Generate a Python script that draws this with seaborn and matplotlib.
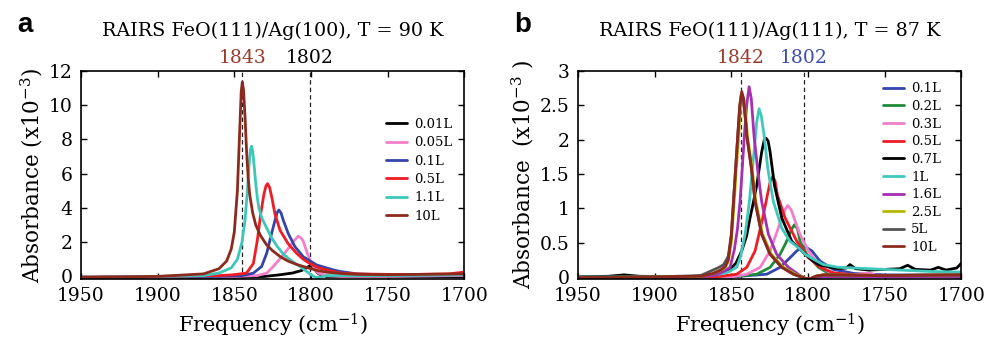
import numpy as np
import pandas as pd
import matplotlib
matplotlib.use("Agg")
import matplotlib.pyplot as plt
import seaborn as sns

# ---------------- Panel a: FeO(111)/Ag(100), T = 90 K ----------------
a_labels = ["0.01L", "0.05L", "0.1L", "0.5L", "1.1L", "10L"]
a_colors = ["#000000", "#f27fcb", "#3444a8", "#ee1d25", "#3ec7b8", "#8e2a1d"]

a_001_f = [1950, 1850, 1830, 1820, 1812, 1806, 1803, 1800.7, 1798, 1795, 1790, 1750, 1700]
a_001_y = [-0.05, -0.05, 0.0, 0.1, 0.2, 0.35, 0.5, 0.63, 0.45, 0.15, 0.0, -0.02, -0.02]

a_005_f = [1950, 1900, 1850, 1835, 1828.9, 1824.6, 1819.1, 1814.8, 1810.9, 1808.3, 1806.5,
           1805, 1802.4, 1800, 1798.5, 1795.2, 1790, 1780, 1750, 1700]
a_005_y = [-0.05, -0.05, 0.0, 0.05, 0.19, 0.58, 1.15, 1.63, 2.1, 2.35, 2.25,
           2.05, 1.35, 0.8, 0.58, 0.19, 0.05, 0.0, 0.0, 0.05]

a_01_f = [1950, 1900, 1860, 1845, 1837.6, 1832.2, 1828.9, 1825.7, 1823.5, 1822, 1820.9,
          1819.5, 1818, 1814.8, 1810.4, 1805, 1796.3, 1785.4, 1781, 1770, 1750, 1700]
a_01_y = [-0.05, -0.02, 0.0, 0.05, 0.19, 0.58, 1.35, 2.5, 3.27, 3.75, 3.88,
          3.7, 3.27, 2.5, 1.73, 1.15, 0.67, 0.38, 0.29, 0.15, 0.08, 0.1]

a_05_f = [1950, 1900, 1860, 1850, 1842, 1837.6, 1835, 1832.8, 1830.7, 1829.3, 1828.3, 1827,
          1825.5, 1823.5, 1820.2, 1814.8, 1809.4, 1805, 1800.7, 1795, 1789.8, 1781, 1770,
          1750, 1730, 1710, 1700]
a_05_y = [-0.05, 0.0, 0.05, 0.1, 0.2, 0.75, 2.1, 3.65, 4.8, 5.3, 5.42, 5.2,
          4.6, 3.65, 2.7, 1.9, 1.35, 1.0, 0.75, 0.5, 0.38, 0.2, 0.15,
          0.12, 0.12, 0.15, 0.25]

a_11_f = [1950, 1900, 1870, 1860, 1852, 1848, 1845, 1843, 1841.5, 1840.3, 1839.5, 1838.7,
          1838, 1837, 1836, 1835, 1834, 1832, 1829, 1826, 1822, 1818, 1814, 1810, 1806,
          1803, 1800, 1797, 1794, 1790, 1770, 1750, 1700]
a_11_y = [-0.05, 0.0, 0.05, 0.2, 0.5, 1.0, 2.0, 3.3, 5.0, 6.6, 7.4, 7.6,
          7.3, 6.4, 5.4, 4.6, 4.0, 3.4, 2.85, 2.3, 1.75, 1.3, 1.0, 0.75, 0.5,
          0.3, 0.1, -0.05, -0.05, 0.05, 0.05, 0.05, 0.1]

a_10_f = [1950, 1900, 1870, 1860, 1855, 1852, 1850, 1848, 1846.5, 1845.5, 1844.8, 1844,
          1843, 1842, 1841, 1840, 1838, 1836, 1833, 1829, 1825, 1820, 1815, 1810, 1805,
          1800, 1795, 1790, 1780, 1770, 1750, 1700]
a_10_y = [-0.05, 0.0, 0.15, 0.45, 0.9, 1.6, 2.6, 5.0, 8.5, 10.8, 11.35, 10.9,
          9.3, 7.3, 5.8, 4.8, 3.7, 3.0, 2.4, 1.85, 1.5, 1.15, 0.9, 0.72, 0.58,
          0.45, 0.33, 0.25, 0.17, 0.12, 0.1, 0.15]

a_freqs = [a_001_f, a_005_f, a_01_f, a_05_f, a_11_f, a_10_f]
a_values = [a_001_y, a_005_y, a_01_y, a_05_y, a_11_y, a_10_y]

# ---------------- Panel b: FeO(111)/Ag(111), T = 87 K ----------------
b_labels = ["0.1L", "0.2L", "0.3L", "0.5L", "0.7L", "1L", "1.6L", "2.5L", "5L", "10L"]
b_colors = ["#3445b0", "#1f8a3a", "#f27fcb", "#ee1d25", "#000000", "#40c8bc",
            "#a530b0", "#b4b800", "#555555", "#8e2a1d"]

b_01_f = [1950, 1850, 1826.9, 1818.2, 1811.7, 1807.3, 1802.6, 1797.5, 1792.1, 1783.4, 1770, 1750, 1700]
b_01_y = [0.0, 0.0, 0.04, 0.14, 0.28, 0.38, 0.45, 0.38, 0.23, 0.11, 0.05, 0.03, 0.03]

b_02_f = [1950, 1850, 1833.4, 1824.7, 1818.2, 1813.9, 1811, 1808.9, 1806.8, 1805.2, 1800.8,
          1793.2, 1785.6, 1770, 1700]
b_02_y = [0.0, 0.0, 0.04, 0.14, 0.33, 0.52, 0.68, 0.76, 0.7, 0.52, 0.33,
          0.14, 0.04, 0.02, 0.02]

b_03_f = [1950, 1900, 1850, 1839.9, 1831.2, 1824.7, 1820.8, 1817.1, 1815, 1813.2, 1811,
          1809.1, 1805.2, 1799.7, 1793.2, 1785.6, 1770, 1760, 1755, 1720, 1700]
b_03_y = [0.0, 0.0, 0.0, 0.04, 0.14, 0.38, 0.62, 0.86, 0.98, 1.04, 0.98,
          0.86, 0.62, 0.38, 0.18, 0.06, 0.03, 0.06, 0.02, 0.02, 0.05]

b_05_f = [1950, 1900, 1860, 1846.5, 1839.9, 1834.5, 1829.5, 1826.5, 1824.5, 1823, 1821.5,
          1819.9, 1814.9, 1807.3, 1799.7, 1792.1, 1783.4, 1770, 1750, 1700]
b_05_y = [0.0, 0.0, 0.0, 0.04, 0.14, 0.38, 0.86, 1.19, 1.4, 1.46, 1.4,
          1.19, 0.86, 0.52, 0.28, 0.14, 0.06, 0.03, 0.02, 0.03]

b_07_f = [1950, 1930, 1920, 1910, 1880, 1860, 1852, 1847, 1843.2, 1840, 1837.8, 1835.5,
          1833.4, 1830.2, 1828.5, 1827.3, 1826, 1824.7, 1821.9, 1817.1, 1810.6, 1806,
          1801.9, 1797, 1793.2, 1785.6, 1780, 1775, 1772.6, 1769, 1760, 1750, 1740,
          1735, 1730, 1720, 1715, 1710, 1703, 1700]
b_07_y = [0.0, 0.01, 0.03, 0.01, 0.0, 0.03, 0.09, 0.2, 0.38, 0.6, 0.86, 1.1,
          1.34, 1.82, 2.0, 2.02, 1.98, 1.82, 1.34, 0.86, 0.52, 0.42,
          0.33, 0.24, 0.18, 0.14, 0.12, 0.13, 0.18, 0.12, 0.1, 0.11, 0.12,
          0.17, 0.11, 0.1, 0.14, 0.1, 0.13, 0.2]

b_1_f = [1950, 1900, 1870, 1860, 1852, 1846.5, 1844, 1841, 1838.2, 1835.2, 1833.5, 1831.9,
         1830.5, 1828.6, 1826.2, 1822.6, 1817.1, 1811.7, 1806, 1801.9, 1795, 1790, 1780,
         1760, 1740, 1720, 1700]
b_1_y = [0.0, 0.0, 0.01, 0.03, 0.07, 0.14, 0.3, 0.62, 1.1, 1.82, 2.25, 2.45,
         2.35, 2.06, 1.58, 1.1, 0.71, 0.52, 0.42, 0.33, 0.24, 0.18, 0.14,
         0.12, 0.1, 0.08, 0.07]

b_16_f = [1950, 1900, 1870, 1860, 1855, 1850.8, 1848, 1846, 1844.3, 1842.8, 1841.5, 1840,
          1838.4, 1837, 1835.2, 1832.5, 1830.2, 1825.8, 1820.4, 1812.8, 1805.1, 1800.8,
          1796, 1790, 1750, 1700]
b_16_y = [-0.02, -0.01, 0.0, 0.03, 0.08, 0.14, 0.4, 0.7, 1.1, 1.6, 2.06, 2.5,
          2.77, 2.6, 2.06, 1.5, 1.1, 0.62, 0.33, 0.14, 0.02, -0.03,
          -0.02, 0.0, 0.0, 0.0]

b_25_f = [1950, 1900, 1870, 1862, 1857, 1854, 1852, 1850, 1848.4, 1846.8, 1845.4, 1844.1,
          1842.8, 1841.6, 1840.1, 1839.4, 1836.5, 1834, 1829.7, 1824.2, 1816.6, 1809,
          1801.5, 1798.5, 1795, 1790, 1750, 1700]
b_25_y = [-0.01, 0.0, 0.01, 0.05, 0.1, 0.14, 0.22, 0.5, 1.0, 1.55, 1.98, 2.42,
          2.65, 2.56, 2.22, 2.04, 1.6, 1.1, 0.63, 0.34, 0.15, 0.05,
          -0.02, -0.03, 0.01, 0.03, 0.02, 0.03]

b_5_f = [1950, 1900, 1870, 1862, 1858, 1855, 1852, 1850, 1848.6, 1847, 1845.8, 1844.5,
         1843.4, 1842.2, 1840.6, 1840, 1837, 1834.5, 1830.2, 1824.7, 1817.1, 1809.5,
         1802, 1799, 1795, 1790, 1750, 1700]
b_5_y = [-0.01, 0.0, 0.02, 0.1, 0.14, 0.18, 0.3, 0.62, 1.1, 1.65, 2.06, 2.48,
         2.67, 2.58, 2.24, 2.06, 1.6, 1.1, 0.62, 0.33, 0.14, 0.04,
         -0.02, -0.03, 0.01, 0.03, 0.02, 0.03]

b_10_f = [1950, 1900, 1870, 1862, 1857, 1854, 1852, 1850, 1848.6, 1847, 1845.8, 1844.5,
          1843.2, 1842, 1840.5, 1839.9, 1837, 1834.5, 1830.2, 1824.7, 1817.1, 1809.5,
          1802, 1799, 1795, 1790, 1750, 1700]
b_10_y = [-0.01, 0.0, 0.01, 0.05, 0.1, 0.15, 0.25, 0.6, 1.1, 1.65, 2.06, 2.5,
          2.70, 2.6, 2.25, 2.06, 1.6, 1.1, 0.62, 0.33, 0.14, 0.04,
          -0.02, -0.03, 0.01, 0.03, 0.02, 0.03]

b_freqs = [b_01_f, b_02_f, b_03_f, b_05_f, b_07_f, b_1_f, b_16_f, b_25_f, b_5_f, b_10_f]
b_values = [b_01_y, b_02_y, b_03_y, b_05_y, b_07_y, b_1_y, b_16_y, b_25_y, b_5_y, b_10_y]

# annotations
a_title = "RAIRS FeO(111)/Ag(100), T = 90 K"
b_title = "RAIRS FeO(111)/Ag(111), T = 87 K"
a_peak_text = ["1843", "1802"]
a_peak_pos = [1844.8, 1800.8]
a_peak_colors = ["#9a3a2c", "#000000"]
b_peak_text = ["1842", "1802"]
b_peak_pos = [1843.6, 1802.6]
b_peak_colors = ["#9a3a2c", "#3a4cae"]
x_ticks = [1950, 1900, 1850, 1800, 1750, 1700]
a_yticks = [0, 2, 4, 6, 8, 10, 12]
b_yticks = [0, 0.5, 1, 1.5, 2, 2.5, 3]
b_ytick_labels = ["0", "0.5", "1", "1.5", "2", "2.5", "3"]


def long_frame(labels, freqs, values):
    rows = []
    for lab, f, v in zip(labels, freqs, values):
        for xx, yy in zip(f, v):
            rows.append((lab, xx, yy))
    return pd.DataFrame(rows, columns=["exposure", "freq", "absorb"])


sns.set_style("ticks")
plt.rcParams["font.family"] = ["DejaVu Serif"]
plt.rcParams["mathtext.fontset"] = "dejavuserif"
plt.rcParams["text.color"] = "#000000"
plt.rcParams["axes.labelcolor"] = "#000000"

fig = plt.figure(figsize=(9.87, 3.41), dpi=100)
ax_a = fig.add_axes([81 / 987, 1 - 279 / 341, 383.3 / 987, 208 / 341])
ax_b = fig.add_axes([578 / 987, 1 - 279 / 341, 383.3 / 987, 208 / 341])

panels = [
    (ax_a, a_labels, a_colors, a_freqs, a_values, a_title, a_peak_text, a_peak_pos,
     a_peak_colors, (-0.15, 12), a_yticks, [str(t) for t in a_yticks],
     "Absorbance (x10$^{-3}$)", "a", 0.41, 0.775),
    (ax_b, b_labels, b_colors, b_freqs, b_values, b_title, b_peak_text, b_peak_pos,
     b_peak_colors, (-0.03, 3), b_yticks, b_ytick_labels,
     "Absorbance  (x10$^{-3}$ )", "b", 0.35, 0.945),
]

for (ax, labels, colors, freqs, values, title, ptext, ppos, pcol, ylim, yticks,
     yticklabels, ylabel, letter, lspace, ltop) in panels:
    df = long_frame(labels, freqs, values)
    for lab, col in zip(labels, colors):
        sub = df[df["exposure"] == lab]
        sns.lineplot(data=sub, x="freq", y="absorb", ax=ax, color=col, lw=2.0,
                     sort=False, estimator=None, label=lab, legend=False)
    for p in ppos:
        ax.axvline(p, color="#222222", lw=0.9, ls=(0, (3.5, 2.5)), zorder=0.5)
    ax.set_xlim(1950, 1700)
    ax.set_ylim(*ylim)
    ax.set_xticks(x_ticks)
    ax.set_xticklabels([str(t) for t in x_ticks])
    ax.set_yticks(yticks)
    ax.set_yticklabels(yticklabels)
    ax.tick_params(direction="in", length=4, width=1, top=True, right=True,
                   labelsize=13.5, pad=6, colors="#000000")
    for s in ax.spines.values():
        s.set_linewidth(1.2)
        s.set_color("#000000")
    ax.set_xlabel("Frequency (cm$^{-1}$)", fontsize=15, labelpad=5)
    ax.set_ylabel(ylabel, fontsize=15.5, labelpad=3)
    ax.set_title(title, fontsize=13.8, pad=25, color="#000000")
    for t, p, c in zip(ptext, ppos, pcol):
        ax.text(p, 1.02, t, transform=ax.get_xaxis_transform(), ha="center",
                va="bottom", fontsize=13.5, color=c)
    handles = [plt.Line2D([], [], color=c, lw=2) for c in colors]
    ax.legend(handles, labels, loc="upper left", bbox_to_anchor=(0.795, ltop),
              frameon=False, fontsize=9.5, handlelength=1.6, handletextpad=0.55,
              labelspacing=lspace, borderpad=0, borderaxespad=0)
    bb = ax.get_position()
    fig.text(bb.x0 - 64 / 987, 0.965, letter, fontsize=20, fontweight="bold",
             family="Liberation Sans", va="top", ha="left")

fig.savefig("out.png", dpi=100)
